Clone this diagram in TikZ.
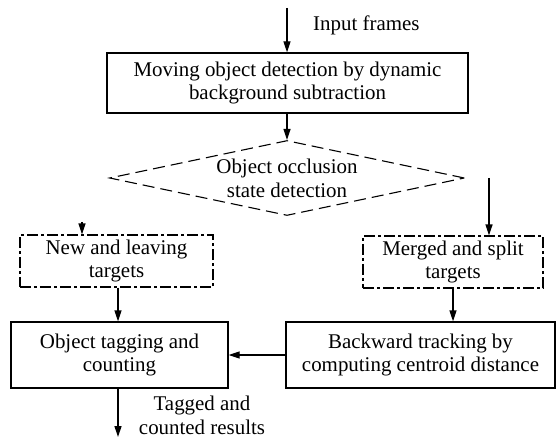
\documentclass[tikz,border=0pt]{standalone}
\usepackage{fontspec}
\setmainfont{Liberation Serif}
\usetikzlibrary{arrows.meta,shapes.geometric}
\begin{document}
\begin{tikzpicture}[x=1bp,y=-1bp,
  every node/.style={font=\fontsize{21}{24}\selectfont},
  solidbox/.style={draw,line width=1.3bp,inner sep=0,align=center},
  dashdotbox/.style={draw,line width=1.1bp,inner sep=0,align=center,
     dash pattern=on 11bp off 3bp on 3bp off 3bp},
  flow/.style={line width=1.3bp,-{Triangle[length=11bp,width=7bp]}},
  lbl/.style={inner sep=0,align=center}]
\useasboundingbox (0,0) rectangle (558,438);
% top input
\coordinate (in) at (287,8);
\node[solidbox,minimum width=361bp,minimum height=60bp] (det) at (287.5,83)
  {Moving object detection by dynamic\\background subtraction};
\node[lbl,anchor=west] (inlbl) at (313,25) {Input frames};
\draw[flow] (in) -- (det.north -| in);
% diamond
\node[draw,shape=diamond,line width=1.1bp,dash pattern=on 12bp off 6bp,
      inner sep=0,minimum width=355bp,minimum height=75bp] (occ) at (287,178) {};
\node[lbl] (occtxt) at (287,178) {Object occlusion\\state detection};
\draw[flow] (det.south -| in) -- (occ.north);
% second row
\node[dashdotbox,minimum width=193bp,minimum height=52bp] (newt) at (116.5,261)
  {New and leaving\\targets};
\node[dashdotbox,minimum width=180bp,minimum height=52bp] (merg) at (453,262)
  {Merged and split\\targets};
\coordinate (nl) at (82,222);
\draw[flow] (nl) -- (newt.north -| nl);
\coordinate (mr) at (489,178);
\draw[flow] (mr) -- (merg.north -| mr);
% third row
\node[solidbox,minimum width=217bp,minimum height=66bp] (tag) at (119.5,355)
  {Object tagging and\\counting};
\node[solidbox,minimum width=269bp,minimum height=66bp] (back) at (420.5,355)
  {Backward tracking by\\computing centroid distance};
\coordinate (lx) at (118,0);
\draw[flow] (newt.south -| lx) -- (tag.north -| lx);
\draw[flow] (merg.south) -- (back.north -| merg.south);
\draw[flow] (back.west) -- (tag.east);
% output
\coordinate (out) at (118,437);
\draw[flow] (tag.south -| out) -- (out);
\node[lbl] (outlbl) at (202,415) {Tagged and\\counted results};
\end{tikzpicture}
\end{document}
